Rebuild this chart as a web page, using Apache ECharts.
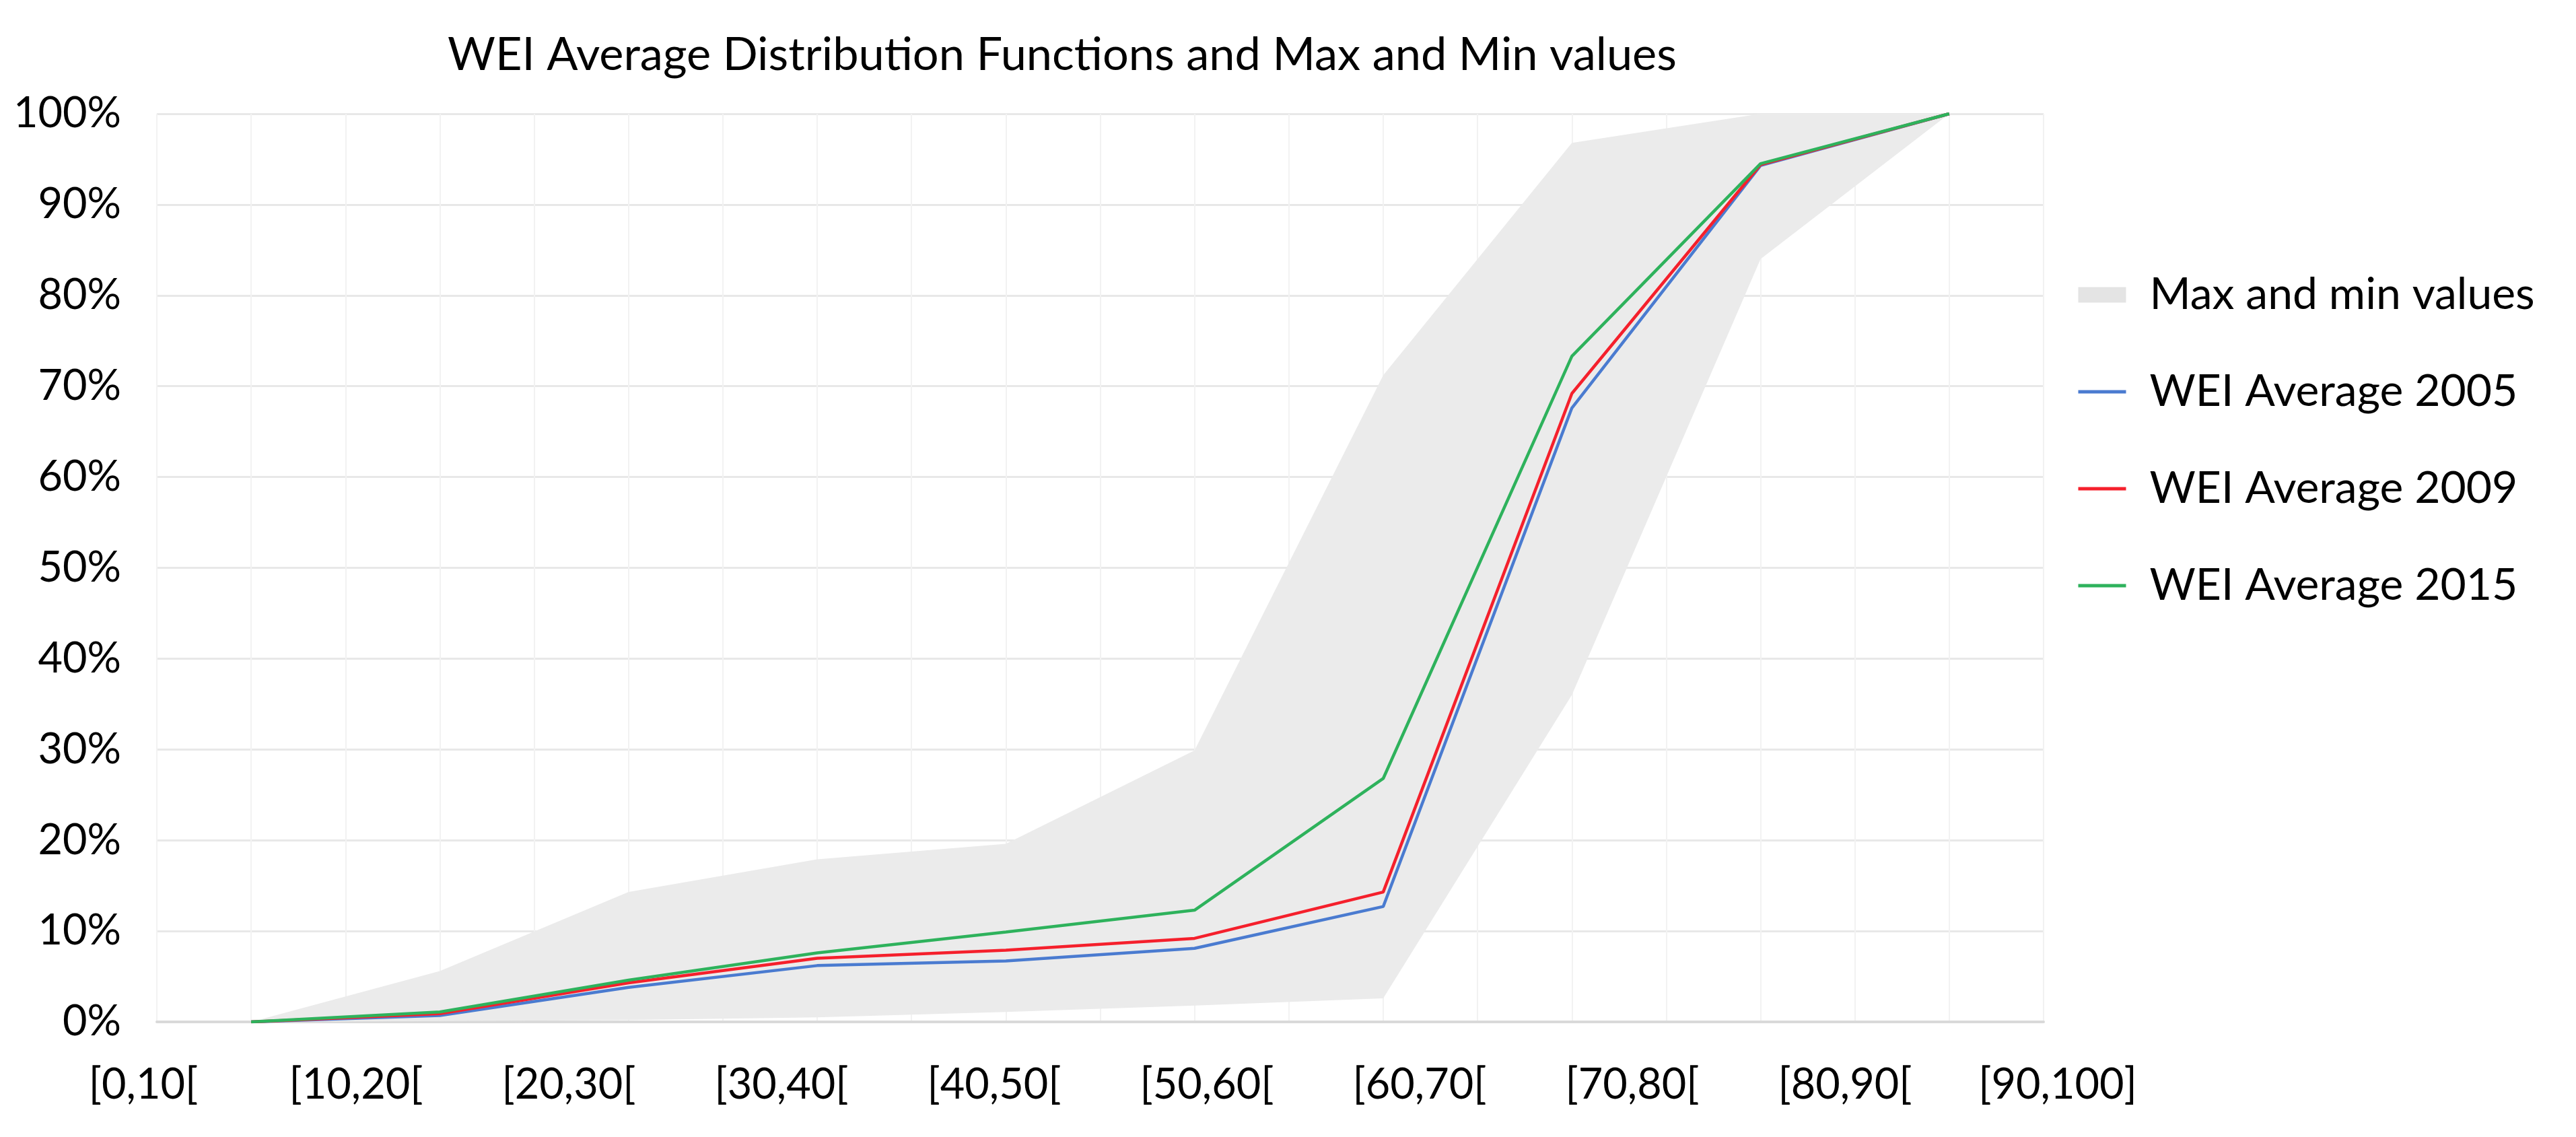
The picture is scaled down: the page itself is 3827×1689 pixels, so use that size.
<!DOCTYPE html>
<html>
<head>
<meta charset="utf-8">
<script src="https://cdn.jsdelivr.net/npm/echarts@6/dist/echarts.min.js"></script>
<style>
html,body{margin:0;padding:0;background:#ffffff;}
#chart{width:3827px;height:1689px;}
</style>
</head>
<body>
<div id="chart"></div>
<script>
// ---- data ----
const categories = ['[0,10[', '[10,20[', '[20,30[', '[30,40[', '[40,50[', '[50,60[', '[60,70[', '[70,80[', '[80,90[', '[90,100]'];
const maxValues = [0, 0.056, 0.143, 0.179, 0.196, 0.299, 0.712, 0.968, 1.0, 1.0];
const minValues = [0, 0.001, 0.002, 0.005, 0.011, 0.018, 0.026, 0.36, 0.84, 1.0];
const wei2005 = [0, 0.007, 0.038, 0.062, 0.067, 0.081, 0.127, 0.676, 0.943, 1.0];
const wei2009 = [0, 0.009, 0.043, 0.070, 0.079, 0.092, 0.143, 0.692, 0.944, 1.0];
const wei2015 = [0, 0.011, 0.046, 0.076, 0.099, 0.123, 0.268, 0.733, 0.945, 1.0];

const FONT = 'Lato';
const bandDiff = maxValues.map((v, i) => +(v - minValues[i]).toFixed(4));

const chart = echarts.init(document.getElementById('chart'));
const option = {
  backgroundColor: '#ffffff',
  animation: false,
  title: {
    text: 'WEI Average Distribution Functions and Max and Min values',
    left: 1573, top: 37, textAlign: 'center',
    textStyle: { fontFamily: FONT, fontSize: 68.5, fontWeight: 'normal', color: '#000', lineHeight: 80 }
  },
  legend: {
    orient: 'vertical', left: 3080, top: 398,
    itemWidth: 71, itemHeight: 23, itemGap: 74,
    lineStyle: { width: 5 },
    textStyle: { fontFamily: FONT, fontSize: 66, color: '#000', lineHeight: 70, padding: [0, 0, 0, 30] },
    data: [
      { name: 'Max and min values', icon: 'rect' },
      { name: 'WEI Average 2005', itemStyle: { opacity: 0 }, lineStyle: { width: 5 } },
      { name: 'WEI Average 2009', itemStyle: { opacity: 0 }, lineStyle: { width: 5 } },
      { name: 'WEI Average 2015', itemStyle: { opacity: 0 }, lineStyle: { width: 5 } }
    ]
  },
  grid: [
    { left: 233, top: 169, width: 2803, height: 1349 },
    { left: 55, top: 169, width: 3160, height: 1349 }
  ],
  xAxis: [
    {
      type: 'category', gridIndex: 0, data: categories, boundaryGap: true,
      axisLine: { lineStyle: { color: '#d9d9d9', width: 4 } },
      axisTick: { show: false }, axisLabel: { show: false }, splitLine: { show: false }
    },
    {
      type: 'category', gridIndex: 1, data: categories, boundaryGap: true,
      axisLine: { show: false }, axisTick: { show: false }, splitLine: { show: false },
      axisLabel: { fontFamily: FONT, fontSize: 63, color: '#000', margin: 56, lineHeight: 76, interval: 0 }
    },
    {
      type: 'value', gridIndex: 0, min: 0, max: 20, interval: 1,
      axisLine: { show: false }, axisTick: { show: false }, axisLabel: { show: false },
      splitLine: { show: true, lineStyle: { color: '#f2f2f2', width: 2 } }
    }
  ],
  yAxis: [
    {
      type: 'value', gridIndex: 0, min: 0, max: 1, interval: 0.1,
      axisLine: { show: false }, axisTick: { show: false },
      axisLabel: { formatter: v => Math.round(v * 100) + '%', fontFamily: FONT, fontSize: 63, color: '#000', margin: 53 },
      splitLine: { lineStyle: { color: '#e8e8e8', width: 3 } }
    },
    { type: 'value', gridIndex: 1, show: false, min: 0, max: 1 }
  ],
  series: [
    {
      name: 'min', type: 'line', xAxisIndex: 0, yAxisIndex: 0, stack: 'band',
      data: minValues, symbol: 'none', silent: true,
      lineStyle: { opacity: 0 }, itemStyle: { color: '#ebebeb' }
    },
    {
      name: 'Max and min values', type: 'line', xAxisIndex: 0, yAxisIndex: 0, stack: 'band',
      data: bandDiff, symbol: 'none', silent: true,
      lineStyle: { opacity: 0, width: 0 },
      areaStyle: { color: '#ebebeb', opacity: 1 },
      itemStyle: { color: '#e4e4e4' }
    },
    {
      name: 'WEI Average 2005', type: 'line', xAxisIndex: 0, yAxisIndex: 0,
      data: wei2005, symbol: 'none',
      lineStyle: { color: '#4a7bd0', width: 4.5 }, itemStyle: { color: '#4a7bd0' }
    },
    {
      name: 'WEI Average 2009', type: 'line', xAxisIndex: 0, yAxisIndex: 0,
      data: wei2009, symbol: 'none',
      lineStyle: { color: '#f5202c', width: 4.5 }, itemStyle: { color: '#f5202c' }
    },
    {
      name: 'WEI Average 2015', type: 'line', xAxisIndex: 0, yAxisIndex: 0,
      data: wei2015, symbol: 'none',
      lineStyle: { color: '#2eb25c', width: 4.5 }, itemStyle: { color: '#2eb25c' }
    }
  ]
};
chart.setOption(option);
</script>
</body>
</html>
